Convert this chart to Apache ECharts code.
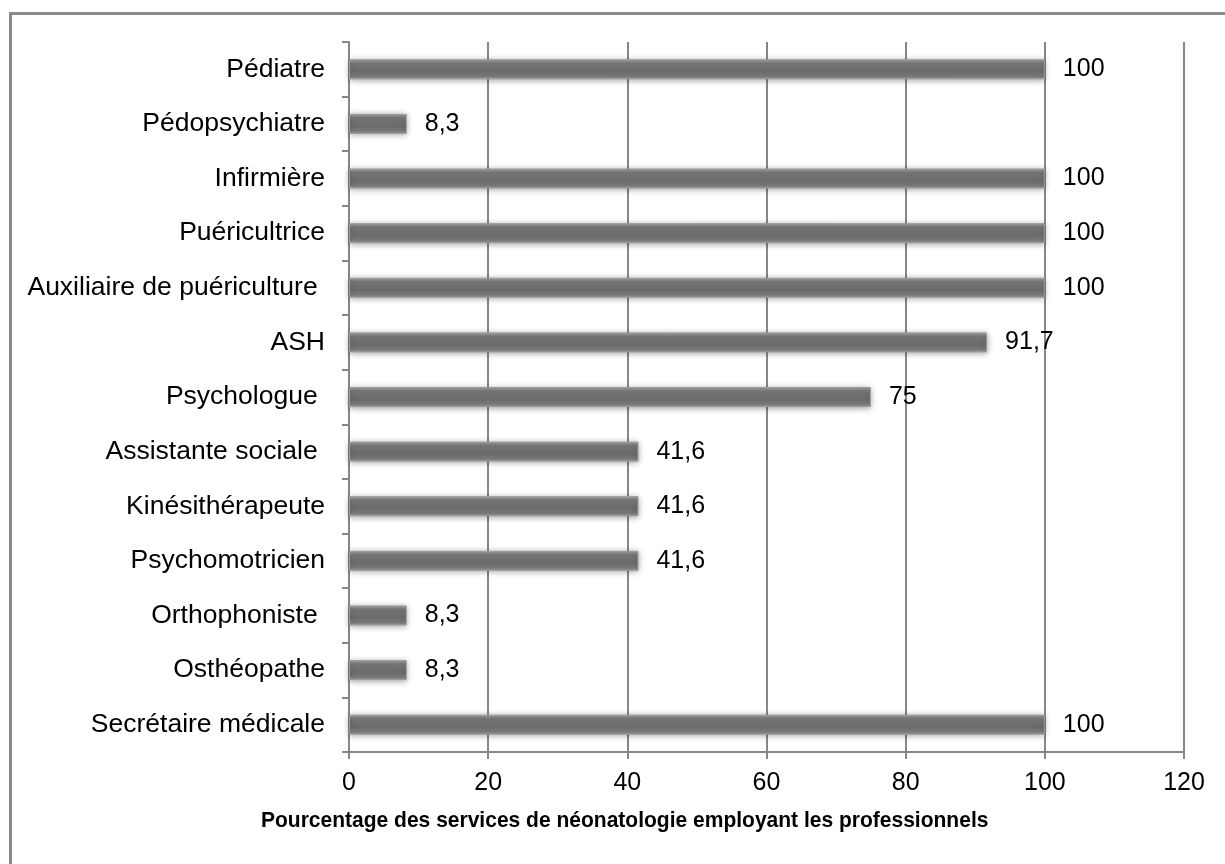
<!DOCTYPE html>
<html>
<head>
<meta charset="utf-8">
<script src="https://cdn.jsdelivr.net/npm/echarts@6/dist/echarts.min.js"></script>
<style>
  html, body { margin: 0; padding: 0; background: #fff; }
  #main { width: 1225px; height: 864px; }
</style>
</head>
<body>
<div id="main"></div>
<script>
// professions, top to bottom
var categories = [
  'Pédiatre', 'Pédopsychiatre', 'Infirmière', 'Puéricultrice',
  'Auxiliaire de puériculture ', 'ASH', 'Psychologue ', 'Assistante sociale ',
  'Kinésithérapeute', 'Psychomotricien', 'Orthophoniste ', 'Osthéopathe',
  'Secrétaire médicale'
];
var values = [100, 8.3, 100, 100, 100, 91.7, 75, 41.6, 41.6, 41.6, 8.3, 8.3, 100];
var axisTitle = 'Pourcentage des services de néonatologie employant les professionnels';

var chart = echarts.init(document.getElementById('main'));
var gray = '#878787';
var font = 'Liberation Sans, Arial, sans-serif';

var option = {
  backgroundColor: '#fff',
  animation: false,
  grid: { left: 349, right: 41, top: 42, bottom: 112, containLabel: false },
  xAxis: {
    type: 'value',
    min: 0, max: 120, interval: 20,
    axisLine: { show: true, lineStyle: { color: gray, width: 2 } },
    axisTick: { show: true, length: 7, lineStyle: { color: gray, width: 2 } },
    splitLine: { show: true, lineStyle: { color: gray, width: 2 } },
    axisLabel: { color: '#000', fontSize: 25, fontFamily: font, margin: 19 }
  },
  yAxis: {
    type: 'category',
    data: categories,
    inverse: true,
    axisLine: { show: true, lineStyle: { color: gray, width: 2 } },
    axisTick: { show: true, length: 7, lineStyle: { color: gray, width: 2 } },
    axisLabel: { color: '#000', fontSize: 26.5, fontFamily: font, margin: 24 }
  },
  graphic: [
    {
      type: 'rect', left: 8, top: 11, silent: true,
      shape: { width: 1240, height: 880 },
      style: { fill: 'none', stroke: '#8a8a8a', lineWidth: 3 }
    },
    {
      // slight horizontal squeeze to fit the original title width
      type: 'text', x: 261, y: 810, scaleX: 0.955,
      style: { text: axisTitle, fill: '#000', font: 'bold 22px ' + font }
    }
  ],
  series: [{
    type: 'bar',
    data: values,
    barWidth: 20,
    itemStyle: {
      color: new echarts.graphic.LinearGradient(0, 0, 0, 1, [
        { offset: 0, color: '#a8a8a8' },
        { offset: 0.2, color: '#777777' },
        { offset: 0.6, color: '#6a6a6a' },
        { offset: 0.85, color: '#7a7a7a' },
        { offset: 1, color: '#a3a3a3' }
      ]),
      borderColor: '#9a9a9a',
      borderWidth: 1,
      shadowBlur: 6,
      shadowColor: 'rgba(0,0,0,0.35)',
      shadowOffsetY: 1
    },
    label: {
      show: true,
      position: 'right',
      distance: 18,
      color: '#000',
      fontSize: 25,
      fontFamily: font,
      formatter: function (p) { return String(p.value).replace('.', ','); }
    }
  }]
};
chart.setOption(option);
</script>
</body>
</html>
